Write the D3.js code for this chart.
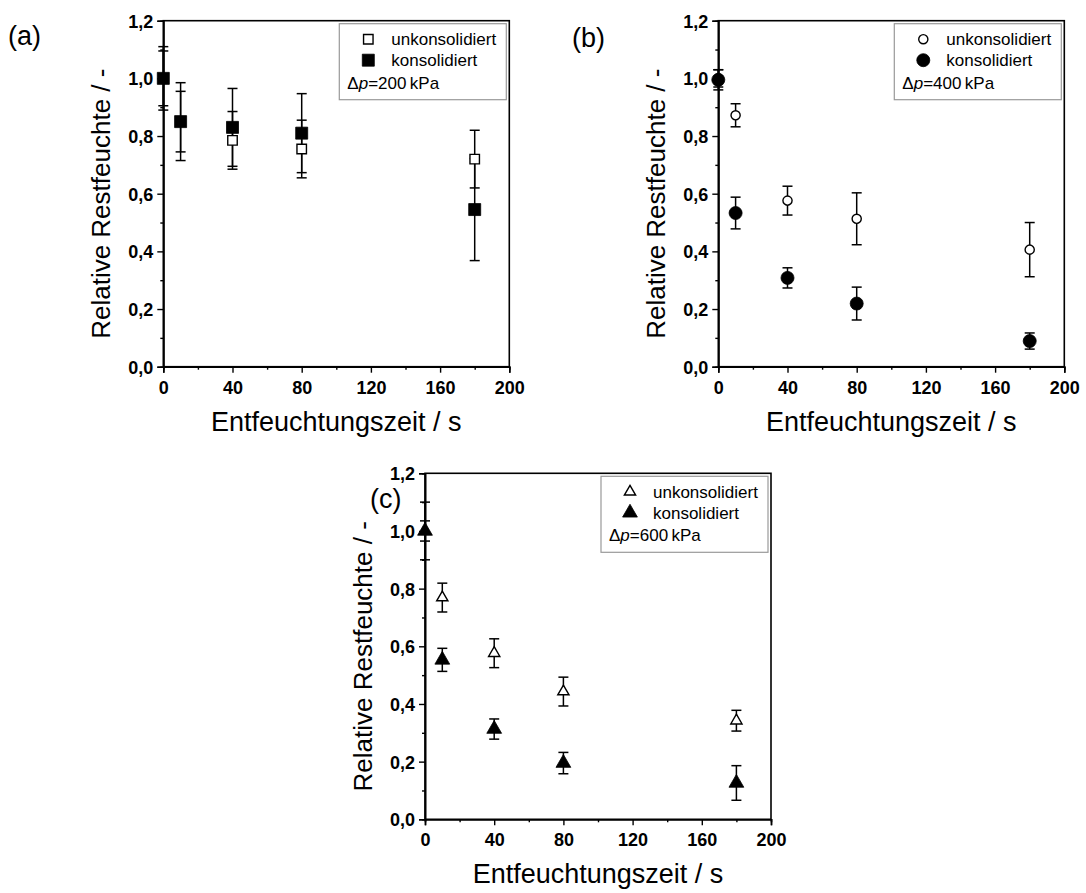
<!DOCTYPE html>
<html><head><meta charset="utf-8">
<script src="https://cdn.jsdelivr.net/npm/d3@7"></script>
<style>body{margin:0;background:#fff} text{font-family:Arial,"Liberation Sans",sans-serif}</style>
</head><body><svg id="chart" width="1086" height="893"></svg>
<script>
// ---- data ----
const times = [0, 10, 40, 80, 180];
const xTicks = [0, 40, 80, 120, 160, 200];
const xMinor = [20, 60, 100, 140, 180];
const yTicks = [0, 0.2, 0.4, 0.6, 0.8, 1.0, 1.2];
const yMinor = [0.1, 0.3, 0.5, 0.7, 0.9, 1.1];
const seriesNames = ["unkonsolidiert", "konsolidiert"];
const pressures = ["200", "400", "600"];
const panelLabels = ["(a)", "(b)", "(c)"];
const xTitle = "Entfeuchtungszeit / s";
const yTitle = "Relative Restfeuchte / -";

const aUnkons    = [1.00, 0.85, 0.785, 0.755, 0.72];
const aUnkonsErr = [0.095, 0.105, 0.10, 0.10, 0.10];
const aKons      = [1.00, 0.85, 0.83, 0.81, 0.545];
const aKonsErr   = [0.11, 0.135, 0.135, 0.137, 0.177];

const bUnkons    = [1.00, 0.872, 0.576, 0.513, 0.406];
const bUnkonsErr = [0.03, 0.04, 0.05, 0.09, 0.094];
const bKons      = [0.995, 0.533, 0.308, 0.219, 0.089];
const bKonsErr   = [0.035, 0.055, 0.035, 0.057, 0.028];

const cUnkons    = [1.00, 0.769, 0.576, 0.443, 0.342];
const cUnkonsErr = [0.035, 0.05, 0.05, 0.05, 0.036];
const cKons      = [1.00, 0.553, 0.313, 0.195, 0.126];
const cKonsErr   = [0.10, 0.04, 0.035, 0.037, 0.06];

// ---- layout ----
const W = 346, H = 346;
const panels = [
  {i:0, shape:"square",   unk:aUnkons, unkErr:aUnkonsErr, kon:aKons, konErr:aKonsErr, left:163.3, top:20.7, lx:8,   ly:45},
  {i:1, shape:"circle",   unk:bUnkons, unkErr:bUnkonsErr, kon:bKons, konErr:bKonsErr, left:718.3, top:20.7, lx:572, ly:47},
  {i:2, shape:"triangle", unk:cUnkons, unkErr:cUnkonsErr, kon:cKons, konErr:cKonsErr, left:425,   top:473.3, lx:370, ly:508}
];

const svg = d3.select("#chart");
const x = d3.scaleLinear().domain([0, 200]).range([0, W]);
const y = d3.scaleLinear().domain([0, 1.2]).range([H, 0]);
const fmtY = v => d3.format(".1f")(v).replace(".", ",");

function markerPath(shape, filled) {
  if (shape === "square") return d3.symbol().type(d3.symbolSquare).size(filled ? 144 : 90)();
  if (shape === "circle") return d3.symbol().type(d3.symbolCircle).size(filled ? 133 : 66)();
  return d3.symbol().type(d3.symbolTriangle).size(filled ? 95 : 55)();
}

panels.forEach(p => {
  const g = svg.append("g").attr("transform", `translate(${p.left},${p.top})`);

  // frame
  g.append("rect").attr("x",0).attr("y",0).attr("width",W).attr("height",H)
    .attr("fill","none").attr("stroke","#000").attr("stroke-width",1.6);

  // axes
  const xAx = g.append("g").attr("transform", `translate(0,${H})`)
    .call(d3.axisBottom(x).tickValues(xTicks).tickSize(6).tickPadding(4).tickFormat(d3.format("d")));
  g.append("g").attr("transform", `translate(0,${H})`)
    .call(d3.axisBottom(x).tickValues(xMinor).tickSize(3).tickFormat(""));
  const yAx = g.append("g")
    .call(d3.axisLeft(y).tickValues(yTicks).tickSize(6).tickPadding(4).tickFormat(fmtY));
  g.append("g").call(d3.axisLeft(y).tickValues(yMinor).tickSize(3).tickFormat(""));
  g.selectAll(".domain").attr("stroke","#000").attr("stroke-width",1.6);
  g.selectAll(".tick line").attr("stroke","#000").attr("stroke-width",1.4);
  g.selectAll(".tick text").attr("fill","#000").style("font-size","18px").style("font-weight","bold")
    .style("font-family","Arial,'Liberation Sans',sans-serif");
  xAx.selectAll(".tick text").attr("dy","0.95em");
  yAx.selectAll(".tick text").attr("dy","0.36em");

  // titles
  g.append("text").attr("x", W/2).attr("y", H + 64).attr("text-anchor","middle")
    .style("font-size","27px").text(xTitle);
  g.append("text").attr("transform", `translate(-53,${H/2 + 10}) rotate(-90)`).attr("text-anchor","middle")
    .style("font-size","26px").text(yTitle);

  // panel label
  svg.append("text").attr("x", p.lx).attr("y", p.ly).style("font-size","27px").text(panelLabels[p.i]);

  // error bars
  const series = [
    {v:p.unk, e:p.unkErr, filled:false},
    {v:p.kon, e:p.konErr, filled:true}
  ];
  series.forEach(s => {
    const eg = g.append("g").attr("stroke","#000").attr("stroke-width",1.5);
    times.forEach((t, k) => {
      const cx = x(t), y1 = y(s.v[k] + s.e[k]), y2 = y(s.v[k] - s.e[k]);
      eg.append("line").attr("x1",cx).attr("x2",cx).attr("y1",y1).attr("y2",y2);
      eg.append("line").attr("x1",cx-5).attr("x2",cx+5).attr("y1",y1).attr("y2",y1);
      eg.append("line").attr("x1",cx-5).attr("x2",cx+5).attr("y1",y2).attr("y2",y2);
    });
  });
  // markers
  series.forEach(s => {
    g.append("g").selectAll("path").data(times).join("path")
      .attr("d", markerPath(p.shape, s.filled))
      .attr("transform", (t, k) => `translate(${x(t)},${y(s.v[k])})`)
      .attr("fill", s.filled ? "#000" : "#fff")
      .attr("stroke", "#000").attr("stroke-width", s.filled ? 0.8 : 1.4);
  });

  // legend
  const lg = g.append("g").attr("transform", `translate(${W-170},3)`);
  lg.append("rect").attr("width",167).attr("height",76).attr("fill","#fff")
    .attr("stroke","#999").attr("stroke-width",1.2);
  seriesNames.forEach((nm, k) => {
    const by = k === 0 ? 21.5 : 42.5;
    lg.append("path").attr("d", markerPath(p.shape, k === 1))
      .attr("transform", `translate(29,${by-6})`)
      .attr("fill", k === 1 ? "#000" : "#fff").attr("stroke","#000").attr("stroke-width", k===1?0.8:1.4);
    lg.append("text").attr("x",52).attr("y",by).style("font-size","17px").text(nm);
  });
  const dp = lg.append("text").attr("x",8).attr("y",65).style("font-size","17px");
  dp.append("tspan").text("\u0394");
  dp.append("tspan").style("font-style","italic").text("p");
  dp.append("tspan").text("=" + pressures[p.i] + "\u2009kPa");
});
</script></body></html>
